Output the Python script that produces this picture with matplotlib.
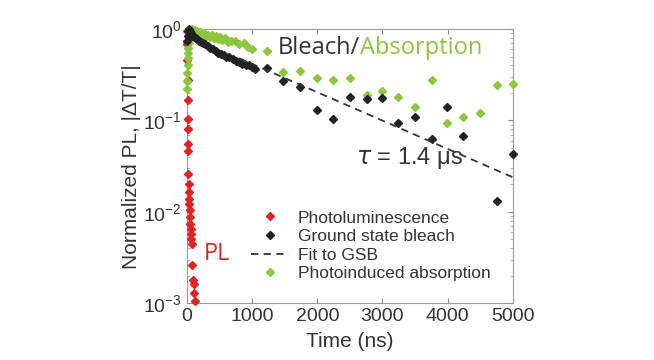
import matplotlib
matplotlib.use("Agg")
import matplotlib.pyplot as plt
import numpy as np

# photoluminescence (ns, normalized)
pl_t = [0, 2, 5, 8, 10, 12, 15, 18, 20, 22, 25, 28, 30, 35, 40, 45, 50, 55,
        60, 65, 70, 80, 90, 100, 110, 120]
pl_y = [0.95, 0.68, 0.46, 0.28, 0.167, 0.105, 0.081, 0.055, 0.046, 0.026,
        0.020, 0.0166, 0.0139, 0.0123, 0.0105, 0.0088, 0.0074, 0.0065,
        0.0057, 0.0050, 0.0044, 0.0026, 0.0018, 0.0016, 0.0013, 0.00105]

# ground state bleach
gsb_t = [0, 10, 20, 30, 40, 60, 80, 100, 130, 160, 190, 220, 250, 280, 320,
         360, 400, 440, 480, 520, 560, 600, 650, 700, 750, 800, 850, 900, 950,
         1000, 1050, 1230, 1470, 1730, 1990, 2240, 2500, 2760, 2990, 3240,
         3500, 3760, 3990, 4240, 4760, 5000]
gsb_y = [0.75, 0.85, 0.95, 1.0, 0.95, 0.9, 0.85, 0.82, 0.8, 0.78, 0.74, 0.72,
         0.70, 0.68, 0.66, 0.62, 0.60, 0.58, 0.55, 0.54, 0.52, 0.50, 0.49,
         0.47, 0.45, 0.44, 0.42, 0.41, 0.40, 0.39, 0.37, 0.38, 0.27, 0.23,
         0.13, 0.105, 0.18, 0.17, 0.175, 0.095, 0.11, 0.063, 0.14, 0.068,
         0.013, 0.043]

# photoinduced absorption
pia_t = [0, 3, 6, 10, 14, 18, 22, 26, 30, 40, 50, 60, 80, 100, 120, 140, 160,
         180, 200, 230, 260, 290, 320, 350, 380, 410, 440, 470, 500, 540, 580,
         630, 680, 735, 800, 870, 940, 1000, 1230, 1470, 1730, 1990, 2240,
         2500, 2760, 2990, 3240, 3500, 3760, 3990, 4240, 4500, 4760, 5000]
pia_y = [0.22, 0.27, 0.33, 0.4, 0.48, 0.55, 0.62, 0.7, 0.78, 0.85, 0.92, 0.97,
         1.0, 0.95, 0.98, 0.92, 0.95, 0.9, 0.93, 0.88, 0.9, 0.85, 0.87, 0.83,
         0.86, 0.8, 0.84, 0.78, 0.82, 0.76, 0.8, 0.72, 0.74, 0.75, 0.68, 0.7,
         0.64, 0.61, 0.57, 0.34, 0.35, 0.29, 0.28, 0.29, 0.19, 0.21, 0.18,
         0.14, 0.28, 0.093, 0.108, 0.12, 0.245, 0.25]

# single exponential fit to GSB
tau_ns = 1400
fit_amp = 0.85
fit_t = np.linspace(800, 5000, 100)

red = "#e02424"
black = "#222222"
green = "#8cc63f"
txt = "#333333"

plt.rcParams["font.family"] = ["Liberation Sans", "DejaVu Sans"]

fig = plt.figure(figsize=(6.54, 3.6), dpi=100)
ax = fig.add_axes([0.286, 0.158, 0.498, 0.761])

ax.plot(pl_t, pl_y, "D", color=red, ms=4.5, mec=red, label="Photoluminescence", clip_on=False, zorder=3)
ax.plot(gsb_t, gsb_y, "D", color=black, ms=4, label="Ground state bleach", clip_on=False, zorder=4)
ax.plot(fit_t, fit_amp * np.exp(-fit_t / tau_ns), "--", color=txt,
        lw=1.3, dashes=(4, 3), label="Fit to GSB", zorder=5)
ax.plot(pia_t, pia_y, "D", color=green, ms=4, label="Photoinduced absorption", clip_on=False, zorder=3)

ax.set_yscale("log")
ax.set_xlim(0, 5000)
ax.set_ylim(1e-3, 1)
ax.set_xticks([0, 1000, 2000, 3000, 4000, 5000])
ax.tick_params(direction="in", labelsize=14, color="#888888", labelcolor=txt,
               top=True, right=True)
ax.tick_params(which="minor", direction="in", color="#aaaaaa", right=True)
for sp in ax.spines.values():
    sp.set_color("#999999")
    sp.set_linewidth(0.8)

ax.set_xlabel("Time (ns)", fontsize=15, color=txt, labelpad=5)
ax.set_ylabel("Normalized PL, |\u0394T/T|", fontsize=15, color=txt, labelpad=2)

leg = ax.legend(loc="lower right", bbox_to_anchor=(0.97, 0.035), frameon=False,
                fontsize=12.5, labelspacing=0.2, handlelength=2.2,
                handletextpad=0.5, borderpad=0.2)
for t in leg.get_texts():
    t.set_color(txt)

bl = ax.text(0.28, 0.93, "Bleach/", transform=ax.transAxes, fontsize=17,
             family="Open Sans", color=txt, va="center")
ax.annotate("Absorption", xy=(1, 0.5), xycoords=bl, va="center", ha="left",
            fontsize=17, family="Open Sans", color=green)
ax.text(0.05, 0.18, "PL", transform=ax.transAxes, fontsize=17,
        family="Open Sans", color=red, va="center")
ax.text(0.52, 0.53, "$\\tau$ = 1.4 \u03bcs", transform=ax.transAxes, fontsize=17,
        color=txt, va="center")

fig.savefig("out.png", dpi=100)
